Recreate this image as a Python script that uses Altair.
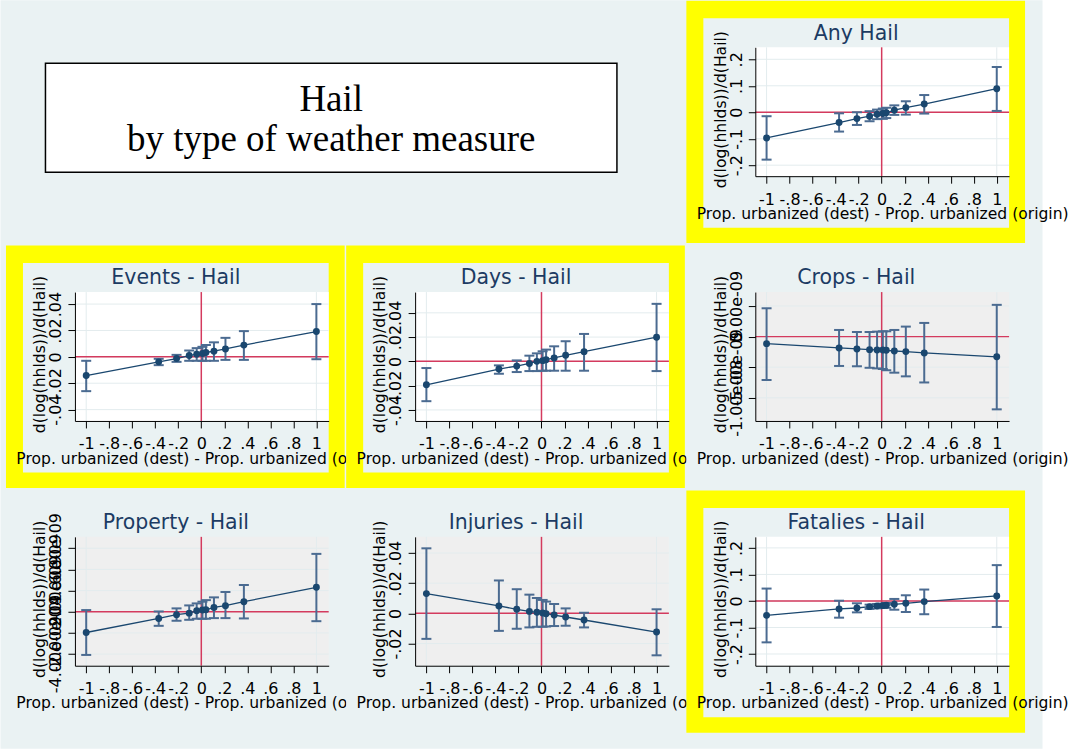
import altair as alt
import pandas as pd

# ---- style ----
FONT = "DejaVu Sans"
SERIF = "Liberation Serif"
NAVY = "#1A476F"
CI_BLUE = "#4B6B91"
REF_RED = "#D43A5E"
GRID = "#E3ECEE"
PANEL_BG = "#EAF2F3"
YELLOW = "#FFFF00"
PLOT_WHITE = "#FFFFFF"
PLOT_GRAY = "#EFEFEF"
TITLE_NAVY = "#1C3B63"

W, H = 254, 129

# ---- data ----
X_TICKS = [-1, -0.8, -0.6, -0.4, -0.2, 0, 0.2, 0.4, 0.6, 0.8, 1]
X_LABELS = ["-1", "-.8", "-.6", "-.4", "-.2", "0", ".2", ".4", ".6", ".8", "1"]
X_DOMAIN = [-1.098, 1.107]
X_TITLE = "Prop. urbanized (dest) - Prop. urbanized (origin)"
Y_TITLE = "d(log(hhlds))/d(Hail)"

# bins of the urbanization difference (dest - origin)
urb_diff = [-1.0, -0.37, -0.215, -0.105, -0.04, 0.01, 0.04, 0.11, 0.21, 0.37, 1.0]

any_coef = [-0.097, -0.039, -0.024, -0.015, -0.0075, -0.005, -0.002, 0.008, 0.0176, 0.031, 0.089]
any_lo = [-0.179, -0.073, -0.048, -0.034, -0.026, -0.025, -0.022, -0.010, -0.009, -0.005, 0.005]
any_hi = [-0.015, -0.004, 0.000, 0.004, 0.010, 0.014, 0.017, 0.026, 0.0415, 0.065, 0.171]

events_coef = [-0.0142, -0.0038, -0.0013, 0.0010, 0.0020, 0.0025, 0.0033, 0.0043, 0.0060, 0.0089, 0.0192]
events_lo = [-0.026, -0.0063, -0.0038, -0.003, -0.003, -0.003, -0.003, -0.003, -0.0023, -0.0023, -0.0018]
events_hi = [-0.003, -0.0015, 0.0015, 0.0048, 0.0066, 0.0076, 0.009, 0.011, 0.0144, 0.0195, 0.040]

days_coef = [-0.0193, -0.0063, -0.0039, -0.0017, 0.0, 0.0006, 0.0014, 0.0028, 0.005, 0.008, 0.0199]
days_lo = [-0.0328, -0.0102, -0.0088, -0.008, -0.008, -0.0077, -0.0077, -0.0077, -0.0077, -0.0077, -0.008]
days_hi = [-0.0055, -0.0033, 0.0008, 0.0047, 0.0066, 0.0083, 0.0097, 0.0124, 0.0166, 0.0226, 0.0474]

crops_coef = [-1.15e-9, -1.85e-9, -2.02e-9, -2.13e-9, -2.18e-9, -2.2e-9, -2.24e-9, -2.35e-9, -2.45e-9, -2.67e-9, -3.3e-9]
crops_lo = [-7.1e-9, -4.8e-9, -4.85e-9, -5.1e-9, -5.2e-9, -5.3e-9, -5.5e-9, -5.9e-9, -6.5e-9, -7.5e-9, -11.9e-9]
crops_hi = [4.64e-9, 1.09e-9, 0.76e-9, 0.76e-9, 0.82e-9, 0.87e-9, 0.87e-9, 1.09e-9, 1.64e-9, 2.24e-9, 5.2e-9]

property_coef = [-1.96e-9, -0.63e-9, -0.28e-9, -0.13e-9, 0.09e-9, 0.16e-9, 0.19e-9, 0.41e-9, 0.57e-9, 0.95e-9, 2.31e-9]
property_lo = [-4.08e-9, -1.33e-9, -0.85e-9, -0.76e-9, -0.66e-9, -0.66e-9, -0.66e-9, -0.6e-9, -0.6e-9, -0.63e-9, -0.89e-9]
property_hi = [0.16e-9, 0.03e-9, 0.32e-9, 0.6e-9, 0.79e-9, 0.95e-9, 1.1e-9, 1.36e-9, 1.87e-9, 2.53e-9, 5.47e-9]

injuries_coef = [0.0131, 0.0049, 0.0027, 0.0013, 0.0007, 0.0002, -0.0002, -0.0011, -0.0024, -0.0044, -0.0124]
injuries_lo = [-0.0169, -0.0116, -0.0102, -0.0093, -0.0089, -0.0089, -0.0087, -0.0084, -0.0082, -0.0093, -0.0278]
injuries_hi = [0.0431, 0.0218, 0.016, 0.0124, 0.0102, 0.0089, 0.0078, 0.0062, 0.0033, 0.0004, 0.0027]

fatal_coef = [-0.0542, -0.030, -0.0265, -0.0214, -0.019, -0.0177, -0.0164, -0.0126, -0.0088, -0.0025, 0.019]
fatal_lo = [-0.156, -0.063, -0.043, -0.030, -0.0277, -0.026, -0.026, -0.033, -0.0416, -0.050, -0.098]
fatal_hi = [0.0467, 0.001, -0.0088, -0.0139, -0.0113, -0.010, -0.0076, 0.0076, 0.0214, 0.043, 0.135]

tick_dec1 = [-0.2, -0.1, 0, 0.1, 0.2]
label_dec1 = ["-.2", "-.1", "0", ".1", ".2"]
tick_dec2 = [-0.04, -0.02, 0, 0.02, 0.04]
label_dec2 = ["-.04", "-.02", "0", ".02", ".04"]
tick_crops = [-1e-8, -5e-9, 0, 5e-9]
label_crops = ["-1.00e-08", "-5.00e-09", "0", "5.00e-09"]
tick_property = [-4e-9, -2e-9, 0, 2e-9, 4e-9, 6e-9]
label_property = ["-4.00e-09", "-2.00e-09", "0", "2.00e-09", "4.00e-09", "6.00e-09"]
tick_injuries = [-0.02, 0, 0.02, 0.04]
label_injuries = ["-.02", "0", ".02", ".04"]

ONE = pd.DataFrame({"k": [0]})
ZERO = pd.DataFrame({"v": [0.0]})


def label_expr(values, labels):
    span = max(values) - min(values)
    eps = span * 1e-6
    expr = "''"
    for v, lab in zip(values, labels):
        expr = f"abs(datum.value - ({v!r})) < {eps!r} ? '{lab}' : ({expr})"
    return expr


def rect_layer(x1, y1, x2, y2, fill, stroke=None, sw=0):
    mk = dict(fill=fill)
    if stroke:
        mk.update(stroke=stroke, strokeWidth=sw)
    return alt.Chart(ONE).mark_rect(**mk).encode(
        x=alt.value(x1), x2=alt.value(x2), y=alt.value(y1), y2=alt.value(y2)
    )


def text_layer(txt, x, y, font, size, color):
    return alt.Chart(ONE).mark_text(
        font=font, fontSize=size, color=color, align="center", baseline="alphabetic"
    ).encode(x=alt.value(x), y=alt.value(y), text=alt.value(txt))


def panel(title, coef, lo, hi, yticks, ylabels, ydom, highlight, fill):
    df = pd.DataFrame({"x": urb_diff, "b": coef, "lo": lo, "hi": hi})
    xs = alt.Scale(domain=X_DOMAIN, nice=False, zero=False)
    ys = alt.Scale(domain=ydom, nice=False, zero=False)
    common = dict(
        domainColor="black", domainWidth=1, tickColor="black", tickWidth=1, tickSize=7,
        labelFont=FONT, labelFontSize=16, labelColor="black", labelOverlap=False,
        labelFlush=False, labelBound=False, grid=False,
        titleFont=FONT, titleFontSize=15.6, titleFontWeight="normal", titleColor="black",
        titleBaseline="alphabetic", titleAlign="center", zindex=1,
    )
    xaxis = alt.Axis(
        values=X_TICKS, labelExpr=label_expr(X_TICKS, X_LABELS), title=X_TITLE,
        labelBaseline="alphabetic", labelAlign="center", labelPadding=21,
        titleX=W / 2, titleY=42.3, **common,
    )
    yaxis = alt.Axis(
        values=yticks, labelExpr=label_expr(yticks, ylabels), title=Y_TITLE,
        labelAngle=270, labelAlign="center", labelBaseline="alphabetic", labelPadding=7.3,
        titleAngle=270, titleX=-30.3, titleY=62, **common,
    )

    def X(f):
        return alt.X(f, type="quantitative", scale=xs, axis=xaxis)

    def Y(f):
        return alt.Y(f, type="quantitative", scale=ys, axis=yaxis)

    layers = []
    if highlight:
        layers.append(rect_layer(-69, -46.5, 270, 196, YELLOW))
        layers.append(rect_layer(-52, -29, W, 180.5, PANEL_BG))
    else:
        layers.append(rect_layer(-69, -46.5, 270, 196, PANEL_BG))
    layers.append(rect_layer(0, 0, W, H, fill))

    layers.append(alt.Chart(pd.DataFrame({"v": yticks})).mark_rule(
        color=GRID, strokeWidth=1).encode(y=Y("v")))
    layers.append(alt.Chart(pd.DataFrame({"v": [-1, 1]})).mark_rule(
        color=GRID, strokeWidth=1).encode(x=X("v")))
    layers.append(alt.Chart(ZERO).mark_rule(color=REF_RED, strokeWidth=1.5).encode(y=Y("v")))
    layers.append(alt.Chart(ZERO).mark_rule(color=REF_RED, strokeWidth=1.5).encode(x=X("v")))

    base = alt.Chart(df)
    layers.append(base.mark_rule(color=CI_BLUE, strokeWidth=2).encode(
        x=X("x"), y=Y("lo"), y2=alt.Y2("hi")))
    cap = dict(color=CI_BLUE, orient="horizontal", size=10, thickness=2, opacity=1)
    layers.append(base.mark_tick(**cap).encode(x=X("x"), y=Y("lo")))
    layers.append(base.mark_tick(**cap).encode(x=X("x"), y=Y("hi")))
    layers.append(base.mark_line(color=NAVY, strokeWidth=1.3).encode(x=X("x"), y=Y("b")))
    layers.append(base.mark_point(filled=True, size=48, color=NAVY, opacity=1).encode(
        x=X("x"), y=Y("b")))
    layers.append(text_layer(title, 101, -7.7, FONT, 20.5, TITLE_NAVY))
    return alt.layer(*layers).properties(width=W, height=H)


# first cell carries the page background and the heading box
OX, OY = 74.5, 47
title_cell = alt.layer(
    rect_layer(-OX, -OY, 1077 - OX, 749 - OY, "white"),
    rect_layer(-OX, -OY, 1043 - OX, 749 - OY, PANEL_BG),
    rect_layer(45 - OX, 63 - OY, 617 - OX, 172 - OY, "white", "black", 1.5),
    text_layer("Hail", 331 - OX, 111 - OY, SERIF, 37, "black"),
    text_layer("by type of weather measure", 331 - OX, 151 - OY, SERIF, 37, "black"),
).properties(width=W, height=H)

empty_cell = alt.Chart(ONE).mark_rect(opacity=0).encode(
    x=alt.value(0), x2=alt.value(1), y=alt.value(0), y2=alt.value(1)
).properties(width=W, height=H)

panels = [
    title_cell,
    empty_cell,
    panel("Any Hail", any_coef, any_lo, any_hi, tick_dec1, label_dec1,
          [-0.2415, 0.2453], True, PLOT_WHITE),
    panel("Events - Hail", events_coef, events_lo, events_hi, tick_dec2, label_dec2,
          [-0.0486, 0.0491], True, PLOT_WHITE),
    panel("Days - Hail", days_coef, days_lo, days_hi, tick_dec2, label_dec2,
          [-0.0491, 0.0571], True, PLOT_WHITE),
    panel("Crops - Hail", crops_coef, crops_lo, crops_hi, tick_crops, label_crops,
          [-1.38e-8, 7.29e-9], False, PLOT_GRAY),
    panel("Property - Hail", property_coef, property_lo, property_hi, tick_property,
          label_property, [-5.1e-9, 7.08e-9], False, PLOT_GRAY),
    panel("Injuries - Hail", injuries_coef, injuries_lo, injuries_hi, tick_injuries,
          label_injuries, [-0.0347, 0.0507], False, PLOT_GRAY),
    panel("Fatalies - Hail", fatal_coef, fatal_lo, fatal_hi, tick_dec1, label_dec1,
          [-0.2441, 0.2416], True, PLOT_WHITE),
]

chart = alt.concat(
    *panels, columns=3, spacing={"row": 116, "column": 86.5}, bounds="flush",
    padding=0, background="white",
).configure_view(strokeWidth=0)

chart.save("out.html", embed_options={"renderer": "svg", "actions": False})
